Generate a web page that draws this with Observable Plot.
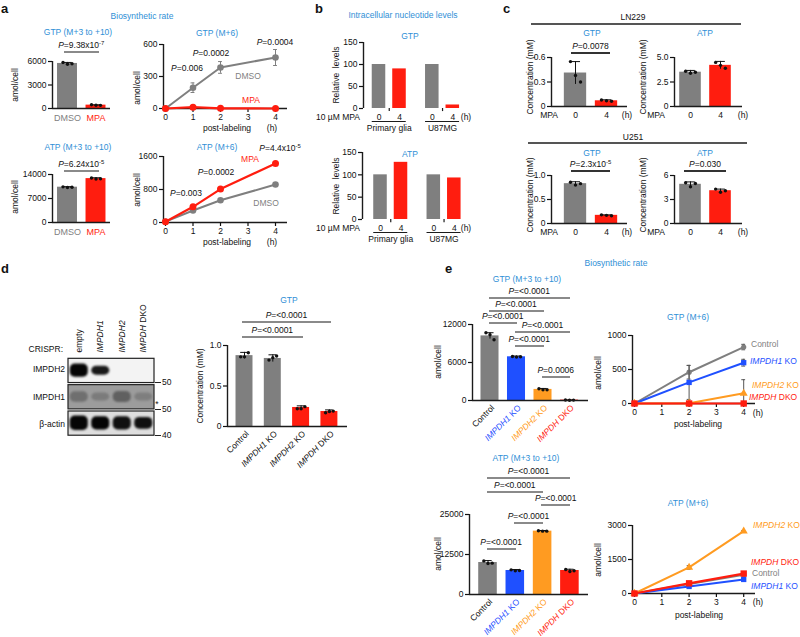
<!DOCTYPE html>
<html><head><meta charset="utf-8">
<script src="https://cdn.jsdelivr.net/npm/d3@7"></script>
<script src="https://cdn.jsdelivr.net/npm/@observablehq/plot@0.6"></script>
<style>
body{margin:0;background:#fff;}
#root{position:relative;width:800px;height:637px;overflow:hidden;font-family:"Liberation Sans",Arial,Helvetica,sans-serif;color:#111;}
.t{position:absolute;white-space:nowrap;line-height:1;}
.t sup{font-size:0.7em;vertical-align:0;position:relative;top:-0.55em;line-height:0;}
</style></head><body><div id="root"></div>
<script>
// ================= DATA =================
// panel a
const aCats = ["DMSO", "MPA"];
const aGtpBar = [5750, 430];
const aGtpBarErr = [130, 40];
const aGtpBarPts = [[5880, 5650, 5720], [470, 420, 400]];
const aAtpBar = [10300, 12800];
const aAtpBarErr = [150, 250];
const aAtpBarPts = [[10400, 10200, 10300], [13000, 12700, 12750]];
const aHours = [0, 1, 2, 4];
const aGtpDmso = [0, 195, 385, 478];
const aGtpDmsoErr = [0, 45, 55, 75];
const aGtpMpa = [0, 12, 2, 0];
const aAtpDmso = [20, 290, 540, 920];
const aAtpMpa = [20, 380, 810, 1430];
const aGtpBarTicks = [0, 3000, 6000];
const aAtpBarTicks = [0, 7000, 14000];
const aGtpLineTicks = [0, 300, 600];
const aAtpLineTicks = [0, 800, 1600];
const hourTicks = [0, 1, 2, 3, 4];
const hourTickLabels = ["0", "1", "2", "3", "4"];
const aPGtpBar = "9.38x10^-7";
const aPAtpBar = "6.24x10^-5";
const aPGtpLine = ["0.006", "0.0002", "0.0004"];
const aPAtpLine = ["0.003", "0.0002", "4.4x10^-5"];
// panel b
const bSubs = ["0", "4", "0", "4"];
const bGroups = ["Primary glia", "U87MG"];
const bGtp = [100, 90, 100, 8];
const bAtp = [100, 128, 100, 93];
const bTicks = [0, 50, 100, 150];
// panel c
const cHours = ["0", "4"];
const cLnGtp = [0.41, 0.07], cLnGtpErr = [0.14, 0.012], cLnGtpPts = [[0.55, 0.38, 0.30], [0.08, 0.07, 0.065]];
const cLnAtp = [3.5, 4.2], cLnAtpErr = [0.18, 0.4], cLnAtpPts = [[3.6, 3.4, 3.5], [4.5, 4.2, 3.9]];
const cUGtp = [0.83, 0.17], cUGtpErr = [0.04, 0.01], cUGtpPts = [[0.86, 0.80, 0.83], [0.18, 0.17, 0.16]];
const cUAtp = [4.9, 4.1], cUAtpErr = [0.3, 0.2], cUAtpPts = [[5.1, 4.6, 5.0], [4.3, 3.9, 4.1]];
const cLnGtpTicks = [0, 0.3, 0.6], cLnGtpLabels = ["0", "0.3", "0.6"];
const cLnAtpTicks = [0, 2.5, 5], cLnAtpLabels = ["0", "2.5", "5.0"];
const cUGtpTicks = [0, 0.5, 1], cUGtpLabels = ["0", "0.5", "1.0"];
const cUAtpTicks = [0, 3, 6], cUAtpLabels = ["0", "3", "6"];
const cP = ["0.0078", "2.3x10^-5", "0.030"];
// panel d
const blotLanes = ["empty", "IMPDH1", "IMPDH2", "IMPDH DKO"];
const blotRows = ["IMPDH2", "IMPDH1", "β-actin"];
const blotIntensity = [[1, 0.92, 0, 0], [0.3, 0.22, 0.4, 0.2], [1, 1, 0.95, 0.95]];
const blotThickness = [[0.5, 0.34, 0, 0], [0.4, 0.3, 0.42, 0.3], [0.55, 0.5, 0.5, 0.45]];
const dCats = ["Control", "IMPDH1 KO", "IMPDH2 KO", "IMPDH DKO"];
const dGtp = [0.875, 0.84, 0.235, 0.185];
const dGtpErr = [0.04, 0.045, 0.02, 0.02];
const dGtpPts = [[0.86, 0.86, 0.91], [0.82, 0.85, 0.87], [0.22, 0.22, 0.245], [0.17, 0.185, 0.19]];
const dTicks = [0, 0.5, 1], dTickLabels = ["0", "0.5", "1.0"];
// panel e
const eCats = ["Control", "IMPDH1 KO", "IMPDH2 KO", "IMPDH DKO"];
const eGtpBar = [10200, 6900, 1750, 60];
const eGtpBarErr = [500, 120, 150, 30];
const eGtpBarPts = [[10700, 10400, 9600], [6950, 6850, 6900], [1850, 1700, 1700], [70, 50, 60]];
const eAtpBar = [10000, 7500, 19800, 7500];
const eAtpBarErr = [600, 300, 200, 400];
const eAtpBarPts = [[10500, 9700, 9800], [7700, 7400, 7500], [19900, 19800, 19800], [7800, 7200, 7400]];
const eHours = [0, 2, 4];
const eGtpLine = {Control: [0, 460, 830], IMPDH1: [0, 310, 600], IMPDH2: [0, 5, 150], DKO: [0, 0, 0]};
const eGtpLineErr = {Control: [0, 100, 40], IMPDH1: [0, 250, 50], IMPDH2: [0, 0, 200], DKO: [0, 0, 0]};
const eAtpLine = {Control: [0, 420, 830], IMPDH1: [0, 310, 620], IMPDH2: [0, 1150, 2750], DKO: [0, 450, 880]};
const eAtpLineErr = {Control: [0, 30, 40], IMPDH1: [0, 30, 40], IMPDH2: [0, 80, 30], DKO: [0, 30, 30]};
const eGtpBarTicks = [0, 6000, 12000];
const eAtpBarTicks = [0, 12500, 25000];
const eGtpLineTicks = [0, 500, 1000];
const eAtpLineTicks = [0, 1500, 3000];
const ePGtp = ["<0.0001", "<0.0001", "<0.0001", "<0.0001", "<0.0001", "0.0006"];
const ePAtp = ["<0.0001", "<0.0001", "<0.0001", "<0.0001", "<0.0001"];

// ================= HELPERS =================
const FONT = '"Liberation Sans", Arial, Helvetica, sans-serif';
const root = document.getElementById("root");
const COL = {gray: "#7f7f7f", red: "#ff1d0f", blue: "#1f50ff", orange: "#ff9b21", title: "#2f8fd6",
  axis: "#1b1b1b", pline: "#8a8a8a", dark: "#555", black: "#111"};

function txt(html, x, y, o = {}) {
  const d = document.createElement("div");
  d.className = "t";
  d.innerHTML = html;
  d.style.left = x + "px";
  d.style.top = y + "px";
  d.style.fontSize = (o.size || 8.5) + "px";
  if (o.color) d.style.color = o.color;
  if (o.bold) d.style.fontWeight = "bold";
  const a = o.anchor || "middle";
  const tx = a === "middle" ? "-50%" : a === "end" ? "-100%" : "0";
  d.style.transform = `translate(${tx},-50%)` + (o.rot ? ` rotate(${o.rot}deg)` : "");
  root.appendChild(d);
  return d;
}
function vtxt(html, x, y, o = {}) { return txt(html, x, y, {...o, rot: -90}); }
function hline(x1, x2, y, color = COL.pline, w = 1.2) {
  const d = document.createElement("div");
  d.style.cssText = `position:absolute;left:${x1}px;top:${y - w / 2}px;width:${x2 - x1}px;height:${w}px;background:${color}`;
  root.appendChild(d);
}
function fmtP(s) {
  return "<i>P</i>=" + s.replace(/</g, "&lt;").replace(/\^(-?\d+)/, "<sup>$1</sup>");
}
function gene(s) { return s.replace(/^(IMPDH\d?)/, "<i>$1</i>"); }
function italicize(svg) {
  svg.querySelectorAll("text").forEach(t => {
    if (t.children.length) return;
    const m = /^(IMPDH\d?)(.*)$/.exec(t.textContent);
    if (!m) return;
    t.textContent = "";
    const ts = document.createElementNS("http://www.w3.org/2000/svg", "tspan");
    ts.setAttribute("font-style", "italic");
    ts.textContent = m[1];
    t.appendChild(ts);
    if (m[2]) t.appendChild(document.createTextNode(m[2]));
  });
}
function frame(s, marks) {
  const mL = s.mL ?? 40, mR = s.mR ?? 20, mT = s.mT ?? 12, mB = s.mB ?? 50;
  const width = mL + (s.x1 - s.x0) + mR;
  const height = mT + (s.yb - s.yt) + mB;
  const p = Plot.plot({
    width, height, marginLeft: mL, marginRight: mR, marginTop: mT, marginBottom: mB,
    x: {domain: s.xDomain, axis: null},
    y: {domain: s.yDomain, axis: null, reverse: !!s.reverse},
    color: {type: "identity"},
    style: {fontFamily: FONT, fontSize: "8.5px", color: "#111", background: "transparent", overflow: "visible"},
    marks
  });
  p.style.position = "absolute";
  p.style.left = (s.x0 - mL) + "px";
  p.style.top = (s.yt - mT) + "px";
  p.style.maxWidth = "none";
  italicize(p);
  root.appendChild(p);
  return p;
}
function axisMarks(lo, s, baseline = true) {
  const m = [Plot.ruleX([lo], {stroke: COL.axis, strokeWidth: 1.4})];
  if (baseline) m.push(Plot.ruleY([0], {stroke: COL.axis, strokeWidth: 1.4}));
  const labs = s.tickLabels;
  m.push(Plot.axisY({ticks: s.ticks, tickSize: 4, tickPadding: 2, label: null, strokeWidth: 1.2,
    tickFormat: d => labs ? labs[s.ticks.indexOf(d)] : String(d)}));
  return m;
}
function barChart(s) {
  const n = s.values.length;
  const lo = (s.x0 - s.c0) / s.step, hi = (s.x1 - s.c0) / s.step;
  const pos = s.pos || (i => i);
  const hw = s.barHalf;
  const rows = d3.range(n).map(i => ({x: pos(i), v: s.values[i], e: s.errs ? s.errs[i] : 0,
    c: s.colors[i], lab: s.labels ? s.labels[i] : "", lc: s.labelColors ? s.labelColors[i] : COL.black}));
  const pts = s.pts ? d3.range(n).flatMap(i => s.pts[i].map((v, k) => ({x: pos(i) + (k - 1) * hw * 0.45, v}))) : [];
  const marks = [Plot.rect(rows, {x1: d => d.x - hw, x2: d => d.x + hw, y1: 0, y2: "v", fill: "c"})];
  if (s.errs) {
    marks.push(Plot.ruleX(rows, {x: "x", y1: d => d.v - d.e, y2: d => d.v + d.e, stroke: COL.black, strokeWidth: 1}));
    marks.push(Plot.ruleY(rows, {y: d => d.v + d.e, x1: d => d.x - hw * 0.45, x2: d => d.x + hw * 0.45, stroke: COL.black, strokeWidth: 1}));
  }
  if (pts.length) marks.push(Plot.dot(pts, {x: "x", y: "v", r: 1.7, fill: COL.black, stroke: "none"}));
  marks.push(...axisMarks(lo, s, s.baseline !== false));
  if (s.labels) {
    if (s.labelRotate) {
      marks.push(Plot.text(rows, {x: "x", y: 0, text: "lab", fill: "lc", rotate: s.labelRotate, textAnchor: "end",
        dx: 3, dy: 6, fontSize: s.labelSize || 8.5}));
    } else {
      marks.push(Plot.text(rows, {x: "x", y: 0, text: "lab", fill: "lc", dy: s.labelDy || 9, fontSize: s.labelSize || 8.5}));
    }
  }
  if (s.extra) marks.push(...s.extra(rows));
  return frame({...s, xDomain: [lo, hi], yDomain: [0, s.ymax]}, marks);
}
function lineChart(s) {
  const lo = (s.x0 - s.t0) / s.step, hi = (s.x1 - s.t0) / s.step;
  const marks = [...axisMarks(lo, s),
    Plot.axisX({ticks: hourTicks, tickSize: 4, tickPadding: 1, label: null, strokeWidth: 1.2,
      tickFormat: d => hourTickLabels[hourTicks.indexOf(d)]})];
  for (const ser of s.series) {
    const data = s.hours.map((h, k) => ({h, v: ser.values[k], e: ser.errs ? ser.errs[k] : 0}));
    const eb = data.filter(d => d.e > 0);
    const ec = ser.errColor || COL.dark;
    if (eb.length) {
      marks.push(Plot.ruleX(eb, {x: "h", y1: d => Math.max(0, d.v - d.e), y2: d => d.v + d.e, stroke: ec, strokeWidth: 1}));
      marks.push(Plot.ruleY(eb, {y: d => d.v + d.e, x1: d => d.h - 0.07, x2: d => d.h + 0.07, stroke: ec, strokeWidth: 1}));
      marks.push(Plot.ruleY(eb.filter(d => d.v - d.e > 0), {y: d => d.v - d.e, x1: d => d.h - 0.07, x2: d => d.h + 0.07, stroke: ec, strokeWidth: 1}));
    }
    marks.push(Plot.line(data, {x: "h", y: "v", stroke: ser.color, strokeWidth: ser.w || 2}));
    marks.push(Plot.dot(data, {x: "h", y: "v", symbol: ser.symbol, fill: ser.color, r: ser.r || 3, stroke: "none"}));
  }
  return frame({...s, xDomain: [lo, hi], yDomain: [0, s.ymax]}, marks);
}
function bracket(p, i, j, y, label, o = {}) {
  const sx = p.scale("x"), L = parseFloat(p.style.left);
  const e = o.ext ?? 1;
  const x1 = L + sx.apply(i) - e, x2 = L + sx.apply(j) + e;
  hline(x1, x2, y, o.color || COL.pline, 1.2);
  txt(fmtP(label), (x1 + x2) / 2, y - 7, {size: o.size || 8.5});
}

// ================= PANEL A =================
txt("a", 1, 8, {bold: true, size: 13, anchor: "start"});
txt("Biosynthetic rate", 142, 16, {color: COL.title});
txt("GTP (M+3 to +10)", 78, 32, {color: COL.title});
txt("GTP (M+6)", 217, 33, {color: COL.title});
txt("ATP (M+3 to +10)", 78, 147, {color: COL.title});
txt("ATP (M+6)", 217, 147, {color: COL.title});

const a1 = barChart({x0: 52, c0: 67, step: 28.5, x1: 110, yt: 61, yb: 108, ymax: 6000, ticks: aGtpBarTicks,
  values: aGtpBar, errs: aGtpBarErr, pts: aGtpBarPts, colors: [COL.gray, COL.red], barHalf: 0.35,
  labels: aCats, labelColors: [COL.gray, COL.red], labelDy: 10, labelSize: 9});
bracket(a1, 0, 1, 52, aPGtpBar, {ext: 3});
vtxt("amol/cell", 15, 85);

lineChart({x0: 163, t0: 165, step: 27.5, x1: 287, yt: 44, yb: 108, ymax: 600, ticks: aGtpLineTicks, hours: aHours,
  series: [{values: aGtpDmso, errs: aGtpDmsoErr, color: COL.gray, errColor: COL.gray, symbol: "circle", r: 3.3},
           {values: aGtpMpa, color: COL.red, symbol: "circle", r: 3.5, w: 2.2}]});
vtxt("amol/cell", 137, 88);
txt(fmtP(aPGtpLine[0]), 187, 68);
txt(fmtP(aPGtpLine[1]), 211, 53);
txt(fmtP(aPGtpLine[2]), 275, 42);
txt("DMSO", 248, 76, {color: COL.gray});
txt("MPA", 251, 100, {color: COL.red});
txt("post-labeling", 227, 128);
txt("(h)", 272, 128);

const a3 = barChart({x0: 52, c0: 67, step: 28.5, x1: 110, yt: 174, yb: 222, ymax: 14000, ticks: aAtpBarTicks,
  values: aAtpBar, errs: aAtpBarErr, pts: aAtpBarPts, colors: [COL.gray, COL.red], barHalf: 0.35,
  labels: aCats, labelColors: [COL.gray, COL.red], labelDy: 10, labelSize: 9});
bracket(a3, 0, 1, 171, aPAtpBar, {ext: 3});
vtxt("amol/cell", 15, 197);

lineChart({x0: 163, t0: 165, step: 27.5, x1: 287, yt: 156, yb: 222, ymax: 1600, ticks: aAtpLineTicks, hours: aHours,
  series: [{values: aAtpDmso, color: COL.gray, symbol: "circle", r: 3.3},
           {values: aAtpMpa, color: COL.red, symbol: "circle", r: 3.5, w: 2.2}]});
vtxt("amol/cell", 137, 190);
txt("MPA", 250, 159, {color: COL.red});
txt(fmtP(aPAtpLine[2]), 280, 148);
txt(fmtP(aPAtpLine[1]), 216, 172);
txt(fmtP(aPAtpLine[0]), 186, 193);
txt("DMSO", 266, 203, {color: COL.gray});
txt("post-labeling", 227, 242);
txt("(h)", 272, 242);

// ================= PANEL B =================
txt("b", 315, 8, {bold: true, size: 13, anchor: "start"});
txt("Intracellular nucleotide levels", 403, 15, {color: COL.title});
txt("GTP", 410, 36, {color: COL.title});
txt("ATP", 410, 154, {color: COL.title});
const bPos = i => Math.floor(i / 2) * 2.6 + (i % 2);
function bExtra() {
  const grp = bGroups.map((g, k) => ({g, c: k * 2.6 + 0.5, a: k * 2.6 - 0.33, b: k * 2.6 + 1.33}));
  return [
    Plot.ruleX(grp, {x: "c", y1: 0, y2: -7, stroke: COL.axis, strokeWidth: 1.2}),
    Plot.ruleY(grp, {y: 0, x1: "a", x2: "b", dy: 13, stroke: COL.axis, strokeWidth: 1}),
    Plot.text(grp, {x: "c", y: 0, text: "g", dy: 20, fontSize: 8.5})
  ];
}
barChart({x0: 363, c0: 378.5, step: 20.5, x1: 463, yt: 42, yb: 108, ymax: 150, ticks: bTicks, pos: bPos,
  values: bGtp, colors: [COL.gray, COL.red, COL.gray, COL.red], barHalf: 0.33, baseline: false,
  labels: bSubs, labelDy: 9, extra: bExtra});
barChart({x0: 362, c0: 380, step: 20.5, x1: 463, yt: 152, yb: 219, ymax: 150, ticks: bTicks, pos: bPos,
  values: bAtp, colors: [COL.gray, COL.red, COL.gray, COL.red], barHalf: 0.33, baseline: false,
  labels: bSubs, labelDy: 9, extra: bExtra});
vtxt("Relative&nbsp; levels", 336, 75);
vtxt("Relative&nbsp; levels", 336, 186);
txt("10 µM MPA", 360, 117, {anchor: "end"});
txt("10 µM MPA", 360, 228, {anchor: "end"});
txt("(h)", 466, 117);
txt("(h)", 466, 228);

// ================= PANEL C =================
txt("c", 503, 8, {bold: true, size: 13, anchor: "start"});
txt("LN229", 633, 17);
hline(531, 741, 24, "#555", 1.4);
txt("GTP", 592, 33, {color: COL.title});
txt("ATP", 705, 33, {color: COL.title});
const c1 = barChart({x0: 551, c0: 575, step: 31, x1: 627, yt: 57, yb: 106, ymax: 0.6, ticks: cLnGtpTicks, tickLabels: cLnGtpLabels,
  values: cLnGtp, errs: cLnGtpErr, pts: cLnGtpPts, colors: [COL.gray, COL.red], barHalf: 0.36, labels: cHours, labelDy: 9});
bracket(c1, 0, 1, 53, cP[0], {ext: 4, color: "#333"});
const c2 = barChart({x0: 674, c0: 690, step: 30, x1: 742, yt: 57, yb: 106, ymax: 5, ticks: cLnAtpTicks, tickLabels: cLnAtpLabels,
  values: cLnAtp, errs: cLnAtpErr, pts: cLnAtpPts, colors: [COL.gray, COL.red], barHalf: 0.36, labels: cHours, labelDy: 9});
vtxt("Concentration (mM)", 530, 77);
vtxt("Concentration (mM)", 643, 77);
txt("MPA", 558, 115, {anchor: "end"});
txt("(h)", 627, 115);
txt("MPA", 665, 115, {anchor: "end"});
txt("(h)", 743, 115);

txt("U251", 633, 137);
hline(528, 747, 143, "#555", 1.4);
txt("GTP", 592, 153, {color: COL.title});
txt("ATP", 705, 153, {color: COL.title});
const c3 = barChart({x0: 551, c0: 575, step: 31, x1: 627, yt: 175, yb: 223, ymax: 1, ticks: cUGtpTicks, tickLabels: cUGtpLabels,
  values: cUGtp, errs: cUGtpErr, pts: cUGtpPts, colors: [COL.gray, COL.red], barHalf: 0.36, labels: cHours, labelDy: 9});
bracket(c3, 0, 1, 171, cP[1], {ext: 4, color: "#333"});
const c4 = barChart({x0: 674, c0: 690, step: 30, x1: 742, yt: 175, yb: 223, ymax: 6, ticks: cUAtpTicks, tickLabels: cUAtpLabels,
  values: cUAtp, errs: cUAtpErr, pts: cUAtpPts, colors: [COL.gray, COL.red], barHalf: 0.36, labels: cHours, labelDy: 9});
bracket(c4, 0, 1, 171, cP[2], {ext: 6, color: "#333"});
vtxt("Concentration (mM)", 530, 195);
vtxt("Concentration (mM)", 643, 195);
txt("MPA", 558, 232, {anchor: "end"});
txt("(h)", 627, 232);
txt("MPA", 665, 232, {anchor: "end"});
txt("(h)", 743, 232);

// ================= PANEL D =================
txt("d", 1, 268, {bold: true, size: 13, anchor: "start"});
txt("CRISPR:", 63, 349, {anchor: "end"});
{
  const rowBg = ["#f3f3f3", "#9c9c9c", "#dedede"];
  const boxes = blotRows.map((r, k) => ({k, bg: rowBg[k]}));
  const bands = blotRows.flatMap((r, k) => blotLanes.map((l, j) => ({k, lane: j + 1,
    th: blotThickness[k][j], c: d3.interpolateRgb(rowBg[k], "#050505")(blotIntensity[k][j])}))).filter(d => d.th > 0);
  const lanes = blotLanes.map((l, j) => ({l, lane: j + 1}));
  frame({x0: 68, x1: 154, yt: 357, yb: 436, xDomain: [0.5, 4.5], yDomain: [0, 3], reverse: true, mT: 60, mB: 10, mL: 10, mR: 10}, [
    Plot.rect(boxes, {x1: 0.5, x2: 4.5, y1: d => d.k + 0.05, y2: d => d.k + 0.97, fill: "bg", stroke: "#222", strokeWidth: 1.2}),
    Plot.rect(bands, {x1: d => d.lane - 0.42, x2: d => d.lane + 0.42, y1: d => d.k + 0.5 - d.th / 2, y2: d => d.k + 0.5 + d.th / 2,
      fill: "c", rx: 5, imageFilter: "blur(1.3px)"}),
    Plot.text(lanes, {x: "lane", y: 0, text: "l", rotate: -90, textAnchor: "start", dy: -5, fontSize: 8.5})
  ]);
}
txt("IMPDH2", 65, 369, {anchor: "end"});
txt("IMPDH1", 65, 397, {anchor: "end"});
txt("β-actin", 65, 424, {anchor: "end"});
hline(155, 161, 382, "#222", 1); txt("50", 162, 382, {anchor: "start"});
txt("*", 157, 404);
hline(155, 161, 409, "#222", 1); txt("50", 162, 409, {anchor: "start"});
hline(155, 161, 435, "#222", 1); txt("40", 162, 435, {anchor: "start"});

const d1 = barChart({x0: 227, c0: 244, step: 28.3, x1: 347, yt: 345, yb: 426, ymax: 1, ticks: dTicks, tickLabels: dTickLabels,
  values: dGtp, errs: dGtpErr, pts: dGtpPts, colors: [COL.gray, COL.gray, COL.red, COL.red], barHalf: 0.3,
  labels: dCats, labelRotate: -45, labelSize: 8.5});
vtxt("Concentration (mM)", 200, 386);
txt("GTP", 289, 300, {color: COL.title});
bracket(d1, 0, 3, 322, "<0.0001", {ext: 2});
bracket(d1, 0, 2, 337, "<0.0001", {ext: 2});

// ================= PANEL E =================
txt("e", 445, 268, {bold: true, size: 13, anchor: "start"});
txt("Biosynthetic rate", 616, 263, {color: COL.title});
txt("GTP (M+3 to +10)", 527, 279, {color: COL.title});
const eColors = [COL.gray, COL.blue, COL.orange, COL.red];
const eLabColors = [COL.black, COL.blue, COL.orange, COL.red];
const e1 = barChart({x0: 472, c0: 489.5, step: 26.5, x1: 588, yt: 324, yb: 400, ymax: 12000, ticks: eGtpBarTicks,
  values: eGtpBar, errs: eGtpBarErr, pts: eGtpBarPts, colors: eColors, barHalf: 0.34,
  labels: eCats, labelColors: eLabColors, labelRotate: -45, labelSize: 8.5});
bracket(e1, 0, 3, 298, ePGtp[0]);
bracket(e1, 0, 2, 311, ePGtp[1]);
bracket(e1, 0, 1, 323, ePGtp[2]);
bracket(e1, 1, 3, 332, ePGtp[3]);
bracket(e1, 1, 2, 346, ePGtp[4]);
bracket(e1, 2, 3, 377, ePGtp[5]);
vtxt("amol/cell", 438, 362);

txt("GTP (M+6)", 688, 317, {color: COL.title});
const eSeries = (vals, errs) => [
  {values: vals.Control, errs: errs.Control, color: COL.gray, symbol: "circle", r: 2.6},
  {values: vals.IMPDH1, errs: errs.IMPDH1, color: COL.blue, symbol: "square", r: 3},
  {values: vals.IMPDH2, errs: errs.IMPDH2, color: COL.orange, symbol: "triangle", r: 3},
  {values: vals.DKO, errs: errs.DKO, color: COL.red, symbol: "square", r: 3.6, w: 2.2}];
lineChart({x0: 632, t0: 634, step: 27.3, x1: 755, yt: 335, yb: 403, ymax: 1000, ticks: eGtpLineTicks, hours: eHours,
  series: eSeries(eGtpLine, eGtpLineErr)});
vtxt("amol/cell", 598, 373);
txt("Control", 751, 344, {anchor: "start", color: COL.gray});
txt(gene("IMPDH1 KO"), 750, 361, {anchor: "start", color: COL.blue});
txt(gene("IMPDH2 KO"), 752, 385, {anchor: "start", color: COL.orange});
txt(gene("IMPDH DKO"), 749, 397, {anchor: "start", color: COL.red});
txt("post-labeling", 698, 424);
txt("(h)", 758, 413);

txt("ATP (M+3 to +10)", 526, 458, {color: COL.title});
const e3 = barChart({x0: 469, c0: 487.5, step: 27.3, x1: 588, yt: 514, yb: 594, ymax: 25000, ticks: eAtpBarTicks,
  values: eAtpBar, errs: eAtpBarErr, pts: eAtpBarPts, colors: eColors, barHalf: 0.34,
  labels: eCats, labelColors: eLabColors, labelRotate: -45, labelSize: 8.5});
bracket(e3, 0, 3, 478, ePAtp[0]);
bracket(e3, 0, 2, 492, ePAtp[1]);
bracket(e3, 2, 3, 505, ePAtp[2]);
bracket(e3, 1, 2, 523, ePAtp[3]);
bracket(e3, 0, 1, 549, ePAtp[4]);
vtxt("amol/cell", 438, 554);

txt("ATP (M+6)", 688, 503, {color: COL.title});
lineChart({x0: 632, t0: 634, step: 27.3, x1: 755, yt: 525, yb: 593, ymax: 3000, ticks: eAtpLineTicks, hours: eHours,
  series: eSeries(eAtpLine, eAtpLineErr)});
vtxt("amol/cell", 598, 560);
txt(gene("IMPDH2 KO"), 753, 525, {anchor: "start", color: COL.orange});
txt(gene("IMPDH DKO"), 751, 562, {anchor: "start", color: COL.red});
txt("Control", 752, 573, {anchor: "start", color: COL.gray});
txt(gene("IMPDH1 KO"), 751, 586, {anchor: "start", color: COL.blue});
txt("post-labeling", 699, 615);
txt("(h)", 758, 602);
</script></body></html>
